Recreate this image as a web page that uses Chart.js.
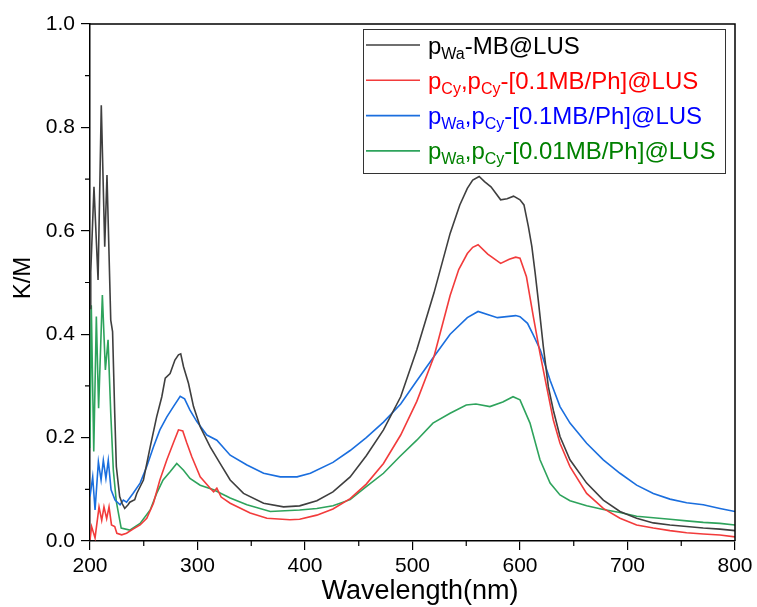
<!DOCTYPE html>
<html>
<head>
<meta charset="utf-8">
<script src="https://cdn.jsdelivr.net/npm/chart.js@4.4.0/dist/chart.umd.min.js"></script>
<style>
  html, body { margin: 0; padding: 0; background: #fff; }
  #wrap { width: 757px; height: 607px; }
</style>
</head>
<body>
<div id="wrap"><canvas id="kmChart" width="757" height="607"></canvas></div>
<script>
// wavelength (nm) / K/M values
const blackWl = [200, 200.7, 203.7, 207.5, 210.5, 213.7, 215.8, 219.3, 221, 223, 224.5, 227.6, 230, 232.3, 235.4, 237, 241.6, 243.5, 249.7, 256, 262, 266.8, 270, 274.5, 279, 282.3, 284.4, 287, 291.6, 296.3, 302.5, 311.8, 321, 330.4, 342.8, 361.5, 380, 395, 411, 426, 442, 457, 473, 489, 504, 520, 535, 544, 551, 556, 562, 567, 573, 582, 588, 594, 600, 603.7, 607.8, 611, 614, 617, 621.7, 626.4, 631, 637.2, 646.5, 662, 677.5, 693, 708.5, 724, 739.5, 755, 770.5, 786, 800];
const blackKM = [0.45, 0.52, 0.685, 0.505, 0.843, 0.569, 0.708, 0.427, 0.405, 0.247, 0.144, 0.086, 0.072, 0.063, 0.07, 0.075, 0.08, 0.092, 0.118, 0.182, 0.24, 0.279, 0.315, 0.324, 0.35, 0.36, 0.362, 0.337, 0.305, 0.26, 0.221, 0.182, 0.15, 0.118, 0.092, 0.073, 0.066, 0.068, 0.078, 0.095, 0.124, 0.165, 0.215, 0.279, 0.37, 0.48, 0.595, 0.65, 0.682, 0.698, 0.705, 0.695, 0.685, 0.66, 0.662, 0.667, 0.66, 0.65, 0.608, 0.57, 0.52, 0.466, 0.376, 0.298, 0.253, 0.202, 0.157, 0.112, 0.079, 0.057, 0.044, 0.035, 0.031, 0.028, 0.025, 0.023, 0.02];

const redWl = [200, 201.5, 204.7, 208.4, 210.9, 213, 215.5, 217.7, 220, 223, 225, 229.5, 234, 240, 246.6, 252.8, 259, 265, 271.5, 277.6, 282.3, 286.3, 290, 294.7, 302.5, 311.8, 315, 318, 322, 330.4, 349, 364.6, 386, 395, 411, 426, 442, 457, 473, 489, 504, 520, 535, 543, 551, 556, 561, 570, 582, 590, 596, 600, 606, 612.4, 618.6, 624.8, 631, 637.2, 646.5, 662, 677.5, 693, 708.5, 724, 739.5, 755, 770.5, 786, 800];
const redKM = [0.002, 0.028, 0.006, 0.066, 0.04, 0.066, 0.043, 0.066, 0.031, 0.028, 0.015, 0.012, 0.015, 0.023, 0.031, 0.044, 0.073, 0.118, 0.157, 0.19, 0.215, 0.213, 0.19, 0.163, 0.124, 0.102, 0.095, 0.102, 0.085, 0.073, 0.054, 0.044, 0.041, 0.042, 0.05, 0.062, 0.082, 0.11, 0.15, 0.205, 0.27, 0.357, 0.475, 0.525, 0.556, 0.568, 0.573, 0.555, 0.537, 0.545, 0.549, 0.547, 0.511, 0.434, 0.363, 0.298, 0.234, 0.189, 0.144, 0.092, 0.063, 0.044, 0.031, 0.025, 0.02, 0.016, 0.0135, 0.0116, 0.008];

const blueWl = [200, 202.5, 204.7, 207.8, 210.3, 212.4, 214.8, 217, 219.6, 223.3, 228, 231, 234, 240, 246.6, 252.8, 259, 265, 271.5, 277.6, 283.9, 288, 293, 299.4, 308.7, 318, 330.4, 346, 361.5, 377, 392.6, 405, 426, 442, 457, 473, 489, 504, 520, 535, 551, 561, 579, 596, 600, 607, 612, 619, 628, 637.2, 646.5, 662, 677.5, 693, 708.5, 724, 739.5, 755, 770.5, 786, 800];
const blueKM = [0.086, 0.124, 0.06, 0.153, 0.118, 0.156, 0.121, 0.156, 0.099, 0.079, 0.07, 0.079, 0.075, 0.092, 0.112, 0.144, 0.182, 0.215, 0.24, 0.26, 0.28, 0.275, 0.253, 0.231, 0.205, 0.195, 0.166, 0.147, 0.131, 0.124, 0.124, 0.131, 0.152, 0.175, 0.2, 0.23, 0.265, 0.31, 0.357, 0.4, 0.432, 0.444, 0.432, 0.436, 0.434, 0.421, 0.4, 0.369, 0.311, 0.26, 0.228, 0.189, 0.157, 0.131, 0.108, 0.092, 0.081, 0.074, 0.07, 0.063, 0.057];

const greenWl = [200, 201.2, 203.5, 205.9, 208, 211.5, 214.3, 216.8, 219.3, 221.7, 224.5, 229, 237, 246.6, 256, 262, 268, 274.5, 280.7, 287, 293, 302.5, 315, 330.4, 346, 367.7, 395, 411, 426, 442, 457, 473, 488, 504, 519, 535, 550, 559, 572, 584, 593.5, 600, 609.3, 618.6, 628, 637.2, 646.5, 662, 677.5, 693, 708.5, 724, 739.5, 755, 770.5, 786, 800];
const greenKM = [0.18, 0.456, 0.173, 0.434, 0.257, 0.476, 0.331, 0.389, 0.247, 0.137, 0.076, 0.025, 0.021, 0.034, 0.06, 0.092, 0.118, 0.134, 0.15, 0.137, 0.121, 0.108, 0.099, 0.083, 0.07, 0.057, 0.06, 0.063, 0.068, 0.08, 0.105, 0.131, 0.163, 0.195, 0.228, 0.247, 0.263, 0.265, 0.26, 0.269, 0.279, 0.273, 0.228, 0.157, 0.112, 0.089, 0.078, 0.068, 0.061, 0.055, 0.048, 0.045, 0.042, 0.039, 0.036, 0.034, 0.031];

const xTicks = [200, 300, 400, 500, 600, 700, 800];
const yTicks = [0.0, 0.2, 0.4, 0.6, 0.8, 1.0];

// legend entries: [main, subscript, main, subscript, ...]
const legendParts = [
    ['p', 'Wa', '-MB@LUS'],
    ['p', 'Cy', ',p', 'Cy', '-[0.1MB/Ph]@LUS'],
    ['p', 'Wa', ',p', 'Cy', '-[0.1MB/Ph]@LUS'],
    ['p', 'Wa', ',p', 'Cy', '-[0.01MB/Ph]@LUS']
];
const lineColors = ['#3f3f3f', '#f23b3b', '#1a6ede', '#2ea35c'];
const textColors = ['#000000', '#ff0000', '#0000ff', '#008000'];

const FONT = '"Liberation Sans", Arial, sans-serif';

function toPoints(wl, km) {
    return wl.map((x, i) => ({ x: x, y: km[i] }));
}

const series = [
    toPoints(blackWl, blackKM),
    toPoints(redWl, redKM),
    toPoints(blueWl, blueKM),
    toPoints(greenWl, greenKM)
];

// frame, minor ticks, axis titles and the subscript legend
const decorations = {
    id: 'decorations',
    afterDraw(chart) {
        const ctx = chart.ctx;
        const area = chart.chartArea;
        const xs = chart.scales.x;
        const ys = chart.scales.y;
        ctx.save();
        ctx.strokeStyle = '#000';
        ctx.lineWidth = 1.5;
        ctx.beginPath();
        ctx.moveTo(area.left, area.top);
        ctx.lineTo(area.right, area.top);
        ctx.lineTo(area.right, area.bottom);
        ctx.stroke();

        // minor ticks
        ctx.lineWidth = 1.2;
        ctx.beginPath();
        for (let i = 0; i < xTicks.length - 1; i++) {
            const px = xs.getPixelForValue((xTicks[i] + xTicks[i + 1]) / 2);
            ctx.moveTo(px, area.bottom);
            ctx.lineTo(px, area.bottom + 5);
        }
        for (let i = 0; i < yTicks.length - 1; i++) {
            const py = ys.getPixelForValue((yTicks[i] + yTicks[i + 1]) / 2);
            ctx.moveTo(area.left, py);
            ctx.lineTo(area.left - 5, py);
        }
        ctx.stroke();

        // axis titles
        ctx.fillStyle = '#000';
        ctx.font = '27px ' + FONT;
        ctx.textAlign = 'center';
        ctx.textBaseline = 'middle';
        ctx.fillText('Wavelength(nm)', 420, 592);
        ctx.font = '24px ' + FONT;
        ctx.save();
        ctx.translate(23, 278);
        ctx.rotate(-Math.PI / 2);
        ctx.fillText('K/M', 0, 0);
        ctx.restore();

        // legend box
        ctx.strokeStyle = '#333';
        ctx.lineWidth = 1;
        ctx.strokeRect(363.5, 29.5, 362, 144);
        ctx.textAlign = 'left';
        ctx.textBaseline = 'alphabetic';
        legendParts.forEach((parts, i) => {
            const ly = 45 + i * 35.3;
            ctx.strokeStyle = lineColors[i];
            ctx.lineWidth = 1.6;
            ctx.beginPath();
            ctx.moveTo(366, ly);
            ctx.lineTo(420, ly);
            ctx.stroke();
            ctx.fillStyle = textColors[i];
            let tx = 428;
            const base = ly + 8.5;
            parts.forEach((p, j) => {
                const sub = j % 2 === 1;
                ctx.font = (sub ? '16px ' : '24px ') + FONT;
                ctx.fillText(p, tx, sub ? base + 5 : base);
                tx += ctx.measureText(p).width;
            });
        });
        ctx.restore();
    }
};

const ctx = document.getElementById('kmChart').getContext('2d');

const kmChart = new Chart(ctx, {
    type: 'line',
    data: {
        datasets: series.map((pts, i) => ({
            label: legendParts[i].join(''),
            data: pts,
            borderColor: lineColors[i],
            borderWidth: 1.6,
            pointRadius: 0,
            fill: false,
            tension: 0
        }))
    },
    options: {
        responsive: false,
        animation: false,
        layout: { padding: { left: 0, right: 22, top: 24, bottom: 0 } },
        plugins: {
            legend: { display: false },
            tooltip: { enabled: false }
        },
        scales: {
            x: {
                type: 'linear',
                min: 200,
                max: 800,
                afterFit: scale => { scale.height = 66; },
                afterBuildTicks: scale => { scale.ticks = xTicks.map(v => ({ value: v })); },
                ticks: {
                    color: '#000',
                    font: { family: FONT, size: 21 },
                    padding: 4,
                    maxRotation: 0,
                    callback: v => String(v)
                },
                grid: { drawOnChartArea: false, drawTicks: true, tickLength: 9, color: '#000', lineWidth: 1.2 },
                border: { color: '#000', width: 1.5 }
            },
            y: {
                min: 0,
                max: 1,
                afterFit: scale => { scale.width = 90; },
                afterBuildTicks: scale => { scale.ticks = yTicks.map(v => ({ value: v })); },
                ticks: {
                    color: '#000',
                    font: { family: FONT, size: 21 },
                    padding: 6,
                    callback: v => Number(v).toFixed(1)
                },
                grid: { drawOnChartArea: false, drawTicks: true, tickLength: 9, color: '#000', lineWidth: 1.2 },
                border: { color: '#000', width: 1.5 }
            }
        }
    },
    plugins: [decorations]
});
</script>
</body>
</html>
